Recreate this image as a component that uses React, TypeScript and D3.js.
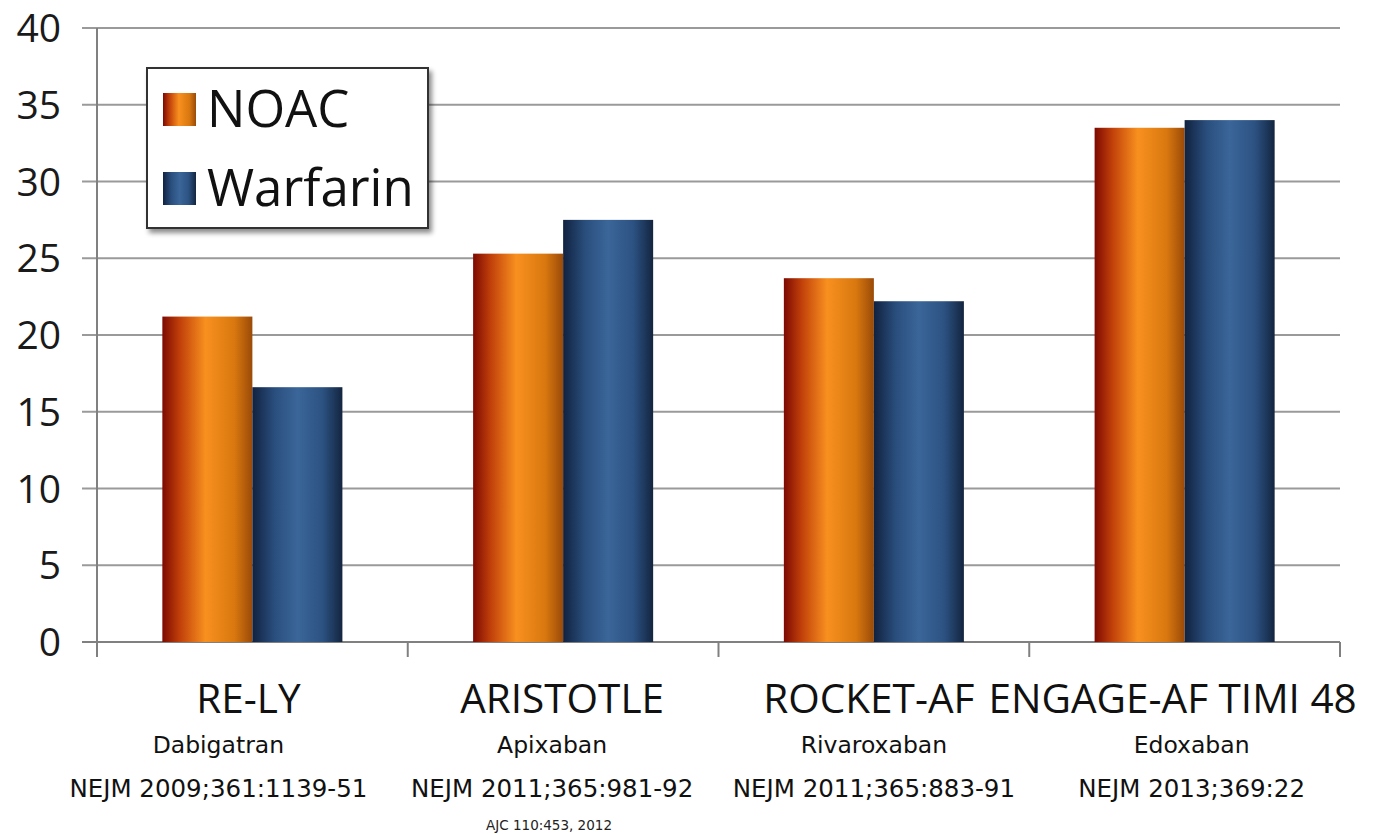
import React from "react";
import * as d3 from "d3";

const trials = ["RE-LY", "ARISTOTLE", "ROCKET-AF", "ENGAGE-AF TIMI 48"];
const drugs = ["Dabigatran", "Apixaban", "Rivaroxaban", "Edoxaban"];
const refs = [
  "NEJM 2009;361:1139-51",
  "NEJM 2011;365:981-92",
  "NEJM 2011;365:883-91",
  "NEJM 2013;369:22",
];
const seriesNames = ["NOAC", "Warfarin"];
const noacValues = [21.2, 25.3, 23.7, 33.5];
const warfarinValues = [16.6, 27.5, 22.2, 34.0];
const yTicks = [0, 5, 10, 15, 20, 25, 30, 35, 40];
const footnote = "AJC 110:453, 2012";

const W = 1377;
const H = 834;
const M = { left: 97, right: 37, top: 28, bottom: 192 };
const FONT = "'DejaVu Sans', Verdana, sans-serif";
const TITLE_FONT = "'Open Sans', sans-serif";

// horizontal nudges for the text lines under each category
const titleOffsets = [-4, -1, -5, -12];
const subOffsets = [-34, -11, 0, 7];

export default function App() {
  const x = d3
    .scaleBand<string>()
    .domain(trials)
    .range([M.left, W - M.right])
    .paddingInner(0)
    .paddingOuter(0);
  const y = d3.scaleLinear().domain([0, 40]).range([H - M.bottom, M.top]);
  const inner = d3
    .scaleBand<string>()
    .domain(seriesNames)
    .range([0, x.bandwidth()])
    .paddingInner(0)
    .paddingOuter(0.726);

  const rows = trials.map((t, i) => ({
    trial: t,
    values: [noacValues[i], warfarinValues[i]],
  }));
  const boundaries = [...trials.map((t) => x(t) as number), W - M.right];
  const y0 = y(0);

  return (
    <svg
      width={W}
      height={H}
      style={{ position: "absolute", left: 0, top: 0, background: "#fff" }}
      fontFamily={FONT}
    >
      <defs>
        <linearGradient id="gNoac" x1="0" x2="1" y1="0" y2="0">
          <stop offset="0" stopColor="#7d0a02" />
          <stop offset="0.2" stopColor="#c2410a" />
          <stop offset="0.48" stopColor="#f8901f" />
          <stop offset="0.8" stopColor="#d9780f" />
          <stop offset="1" stopColor="#9a4a08" />
        </linearGradient>
        <linearGradient id="gWarf" x1="0" x2="1" y1="0" y2="0">
          <stop offset="0" stopColor="#112240" />
          <stop offset="0.25" stopColor="#2a4f7e" />
          <stop offset="0.5" stopColor="#3b6699" />
          <stop offset="0.78" stopColor="#2c5282" />
          <stop offset="1" stopColor="#13253f" />
        </linearGradient>
        <filter id="shadow" x="-10%" y="-10%" width="130%" height="130%">
          <feDropShadow dx="3" dy="4" stdDeviation="2.5" floodColor="#000" floodOpacity="0.45" />
        </filter>
      </defs>

      {/* gridlines and y ticks */}
      {yTicks.map((t) => (
        <g key={t}>
          <line
            x1={M.left - 15}
            x2={W - M.right}
            y1={y(t)}
            y2={y(t)}
            stroke={t === 0 ? "#808080" : "#9a9a9a"}
            strokeWidth={2}
          />
          <text
            x={61}
            y={y(t)}
            dy="0.36em"
            textAnchor="end"
            fontSize={39}
            fill="#1a1a1a"
            fontFamily={TITLE_FONT}
          >
            {t}
          </text>
        </g>
      ))}
      <line x1={M.left} x2={M.left} y1={M.top} y2={y0 + 15} stroke="#808080" strokeWidth={2} />
      {boundaries.slice(1).map((b, i) => (
        <line key={i} x1={b} x2={b} y1={y0} y2={y0 + 15} stroke="#808080" strokeWidth={2} />
      ))}

      {/* bars */}
      {rows.map((r) => (
        <g key={r.trial} transform={`translate(${x(r.trial)},0)`}>
          {seriesNames.map((s, j) => (
            <rect
              key={s}
              x={inner(s)}
              y={y(r.values[j])}
              width={inner.bandwidth()}
              height={y0 - y(r.values[j])}
              fill={j === 0 ? "url(#gNoac)" : "url(#gWarf)"}
            />
          ))}
        </g>
      ))}

      {/* category labels */}
      {trials.map((t, i) => {
        const cx = (x(t) as number) + x.bandwidth() / 2;
        return (
          <g key={t}>
            <text
              x={cx + titleOffsets[i]}
              y={713}
              textAnchor="middle"
              fontSize={40.5}
              fill="#111"
              fontFamily={TITLE_FONT}
            >
              {t}
            </text>
            <text x={cx + subOffsets[i]} y={753} textAnchor="middle" fontSize={23.5} fill="#111">
              {drugs[i]}
            </text>
            <text x={cx + subOffsets[i]} y={797} textAnchor="middle" fontSize={24.5} fill="#111">
              {refs[i]}
            </text>
          </g>
        );
      })}
      <text x={549} y={830} textAnchor="middle" fontSize={13.5} fill="#222">
        {footnote}
      </text>

      {/* legend */}
      <g>
        <rect x={147} y={68} width={281} height={160} fill="#fff" stroke="#333" strokeWidth={2} filter="url(#shadow)" />
        {seriesNames.map((s, j) => (
          <g key={s} transform={`translate(0,${j * 79})`}>
            <rect x={163} y={93} width={33} height={33} fill={j === 0 ? "url(#gNoac)" : "url(#gWarf)"} />
            <text x={207} y={109} dy="0.36em" fontSize={51} fill="#111" fontFamily={TITLE_FONT}>
              {s}
            </text>
          </g>
        ))}
      </g>
    </svg>
  );
}
